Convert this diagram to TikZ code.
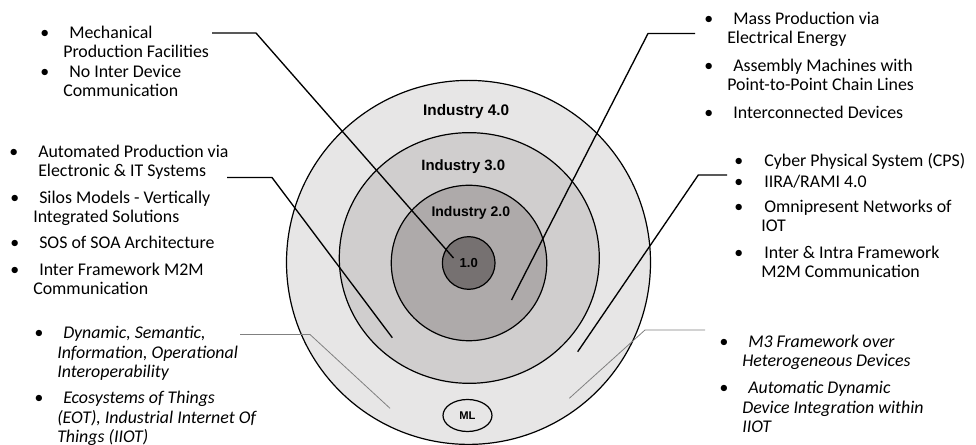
\documentclass[tikz,border=0pt]{standalone}
\usepackage{fontspec}
\setmainfont{Carlito}
\newfontfamily\headfont{Liberation Sans}
\usetikzlibrary{shapes.geometric}
\definecolor{ringfour}{RGB}{231,230,230}
\definecolor{ringthree}{RGB}{208,206,206}
\definecolor{ringtwo}{RGB}{174,170,170}
\definecolor{ringone}{RGB}{118,113,113}
\definecolor{leadgray}{RGB}{128,128,128}
\newcommand\bul[1][10.5pt]{\llap{\textbullet\hspace*{#1}}}
\tikzset{ring/.style={draw,line width=.9pt,inner sep=0pt},
 tag/.style={font=\headfont\bfseries\fontsize{#1}{#1}\selectfont},
 items/.style={anchor=base west,align=left,inner sep=0pt,
  font=\fontsize{13.4}{14.6}\selectfont},
 itemsit/.style={items,font=\fontsize{13.4}{14.6}\selectfont\itshape},
 lead/.style={line width=1pt},
 thinlead/.style={leadgray,line width=.6pt}}

\begin{document}
\begin{tikzpicture}[x=.75pt,y=-.75pt]
\useasboundingbox (0,0) rectangle (976,445);
\node[ring,circle,fill=ringfour,minimum size=273pt] (ind4) at (468.5,262.4) {};
\node[ring,ellipse,fill=ringthree,minimum width=195pt,minimum height=188pt] (ind3) at (469.3,258) {};
\node[ring,circle,fill=ringtwo,minimum size=116.6pt] (ind2) at (469,263) {};
\node[ring,circle,fill=ringone,minimum size=39.5pt,tag=9.8] (ind1) at (468.7,263) {1.0};
\node[ring,ellipse,fill=ringfour,minimum width=36.75pt,minimum height=24pt,tag=8.4] (ml) at (467.5,415.5) {ML};
\node[tag=11.5,anchor=base] (lab4) at (466.2,115.3) {Industry 4.0};
\node[tag=11.2,anchor=base] (lab3) at (463.3,170.7) {Industry 3.0};
\node[tag=10.5,anchor=base] (lab2) at (470.8,216.7) {Industry 2.0};

% items sit on the baseline of their last line
\node[items] (mech) at (63,58) {\bul\hspace*{4.5pt}Mechanical\\Production Facilities};
\node[items] (nodev) at (63,97) {\bul\hspace*{4.5pt}No Inter Device\\Communication};

\node[items] (autom) at (38,177) {\bul[15pt]Automated Production via\\Electronic \& IT Systems};
\node[items] (silos) at (33,223) {\bul\hspace*{4.5pt}Silos Models - Vertically\\Integrated Solutions};
\node[items] (sos) at (33,248.5) {\bul\hspace*{4.5pt}SOS of SOA Architecture};
\node[items] (mtwom) at (33,295) {\bul\hspace*{4.5pt}Inter Framework M2M\\Communication};

\node[itemsit] (interop) at (57,377.5) {\bul\hspace*{4.5pt}Dynamic, Semantic,\\Information, Operational\\Interoperability};
\node[itemsit] (eot) at (57,442.5) {\bul\hspace*{4.5pt}Ecosystems of Things\\(EOT), Industrial Internet Of\\Things (IIOT)};

\node[items] (mass) at (727,44) {\bul\hspace*{4.5pt}Mass Production via\\Electrical Energy};
\node[items] (assem) at (727,91) {\bul\hspace*{4.5pt}Assembly Machines with\\Point-to-Point Chain Lines};
\node[items] (inter) at (727,118.5) {\bul\hspace*{4.5pt}Interconnected Devices};

\node[items] (cps) at (761,166.5) {\bul[13.5pt]\hspace*{2.25pt}Cyber Physical System (CPS)};
\node[items] (rami) at (761,187.5) {\bul[13.5pt]\hspace*{2.25pt}IIRA/RAMI 4.0};
\node[items] (omni) at (761,232) {\bul[13.5pt]\hspace*{2.25pt}Omnipresent Networks of\\IOT};
\node[items] (intra) at (761,278) {\bul[13.5pt]\hspace*{2.25pt}Inter \& Intra Framework\\M2M Communication};

\node[itemsit] (mthree) at (742,367) {\bul\hspace*{4.5pt}M3 Framework over\\Heterogeneous Devices};
\node[itemsit] (autodev) at (742,432.5) {\bul\hspace*{4.5pt}Automatic Dynamic\\Device Integration within\\IIOT};

\coordinate (a0) at (212,33);    \coordinate (a1) at (256,33);    \coordinate (a2) at (453.5,258);
\coordinate (b0) at (695,33.5);  \coordinate (b1) at (648,33.5);  \coordinate (b2) at (511.5,300);
\coordinate (c0) at (227,177.5); \coordinate (c1) at (272,177.5); \coordinate (c2) at (392.3,337.7);
\coordinate (d0) at (727,175);   \coordinate (d1) at (698.3,175); \coordinate (d2) at (577.7,351.7);
\coordinate (e0) at (240,334.5); \coordinate (e1) at (310,334.5); \coordinate (e2) at (390,408.3);
\coordinate (f0) at (705,330);   \coordinate (f1) at (645,330);   \coordinate (f2) at (569.3,398.3);
\foreach \k in {a,b,c,d} \draw[lead] (\k0)--(\k1)--(\k2);
\foreach \k in {e,f} \draw[thinlead] (\k0)--(\k1)--(\k2);
\end{tikzpicture}
\end{document}
